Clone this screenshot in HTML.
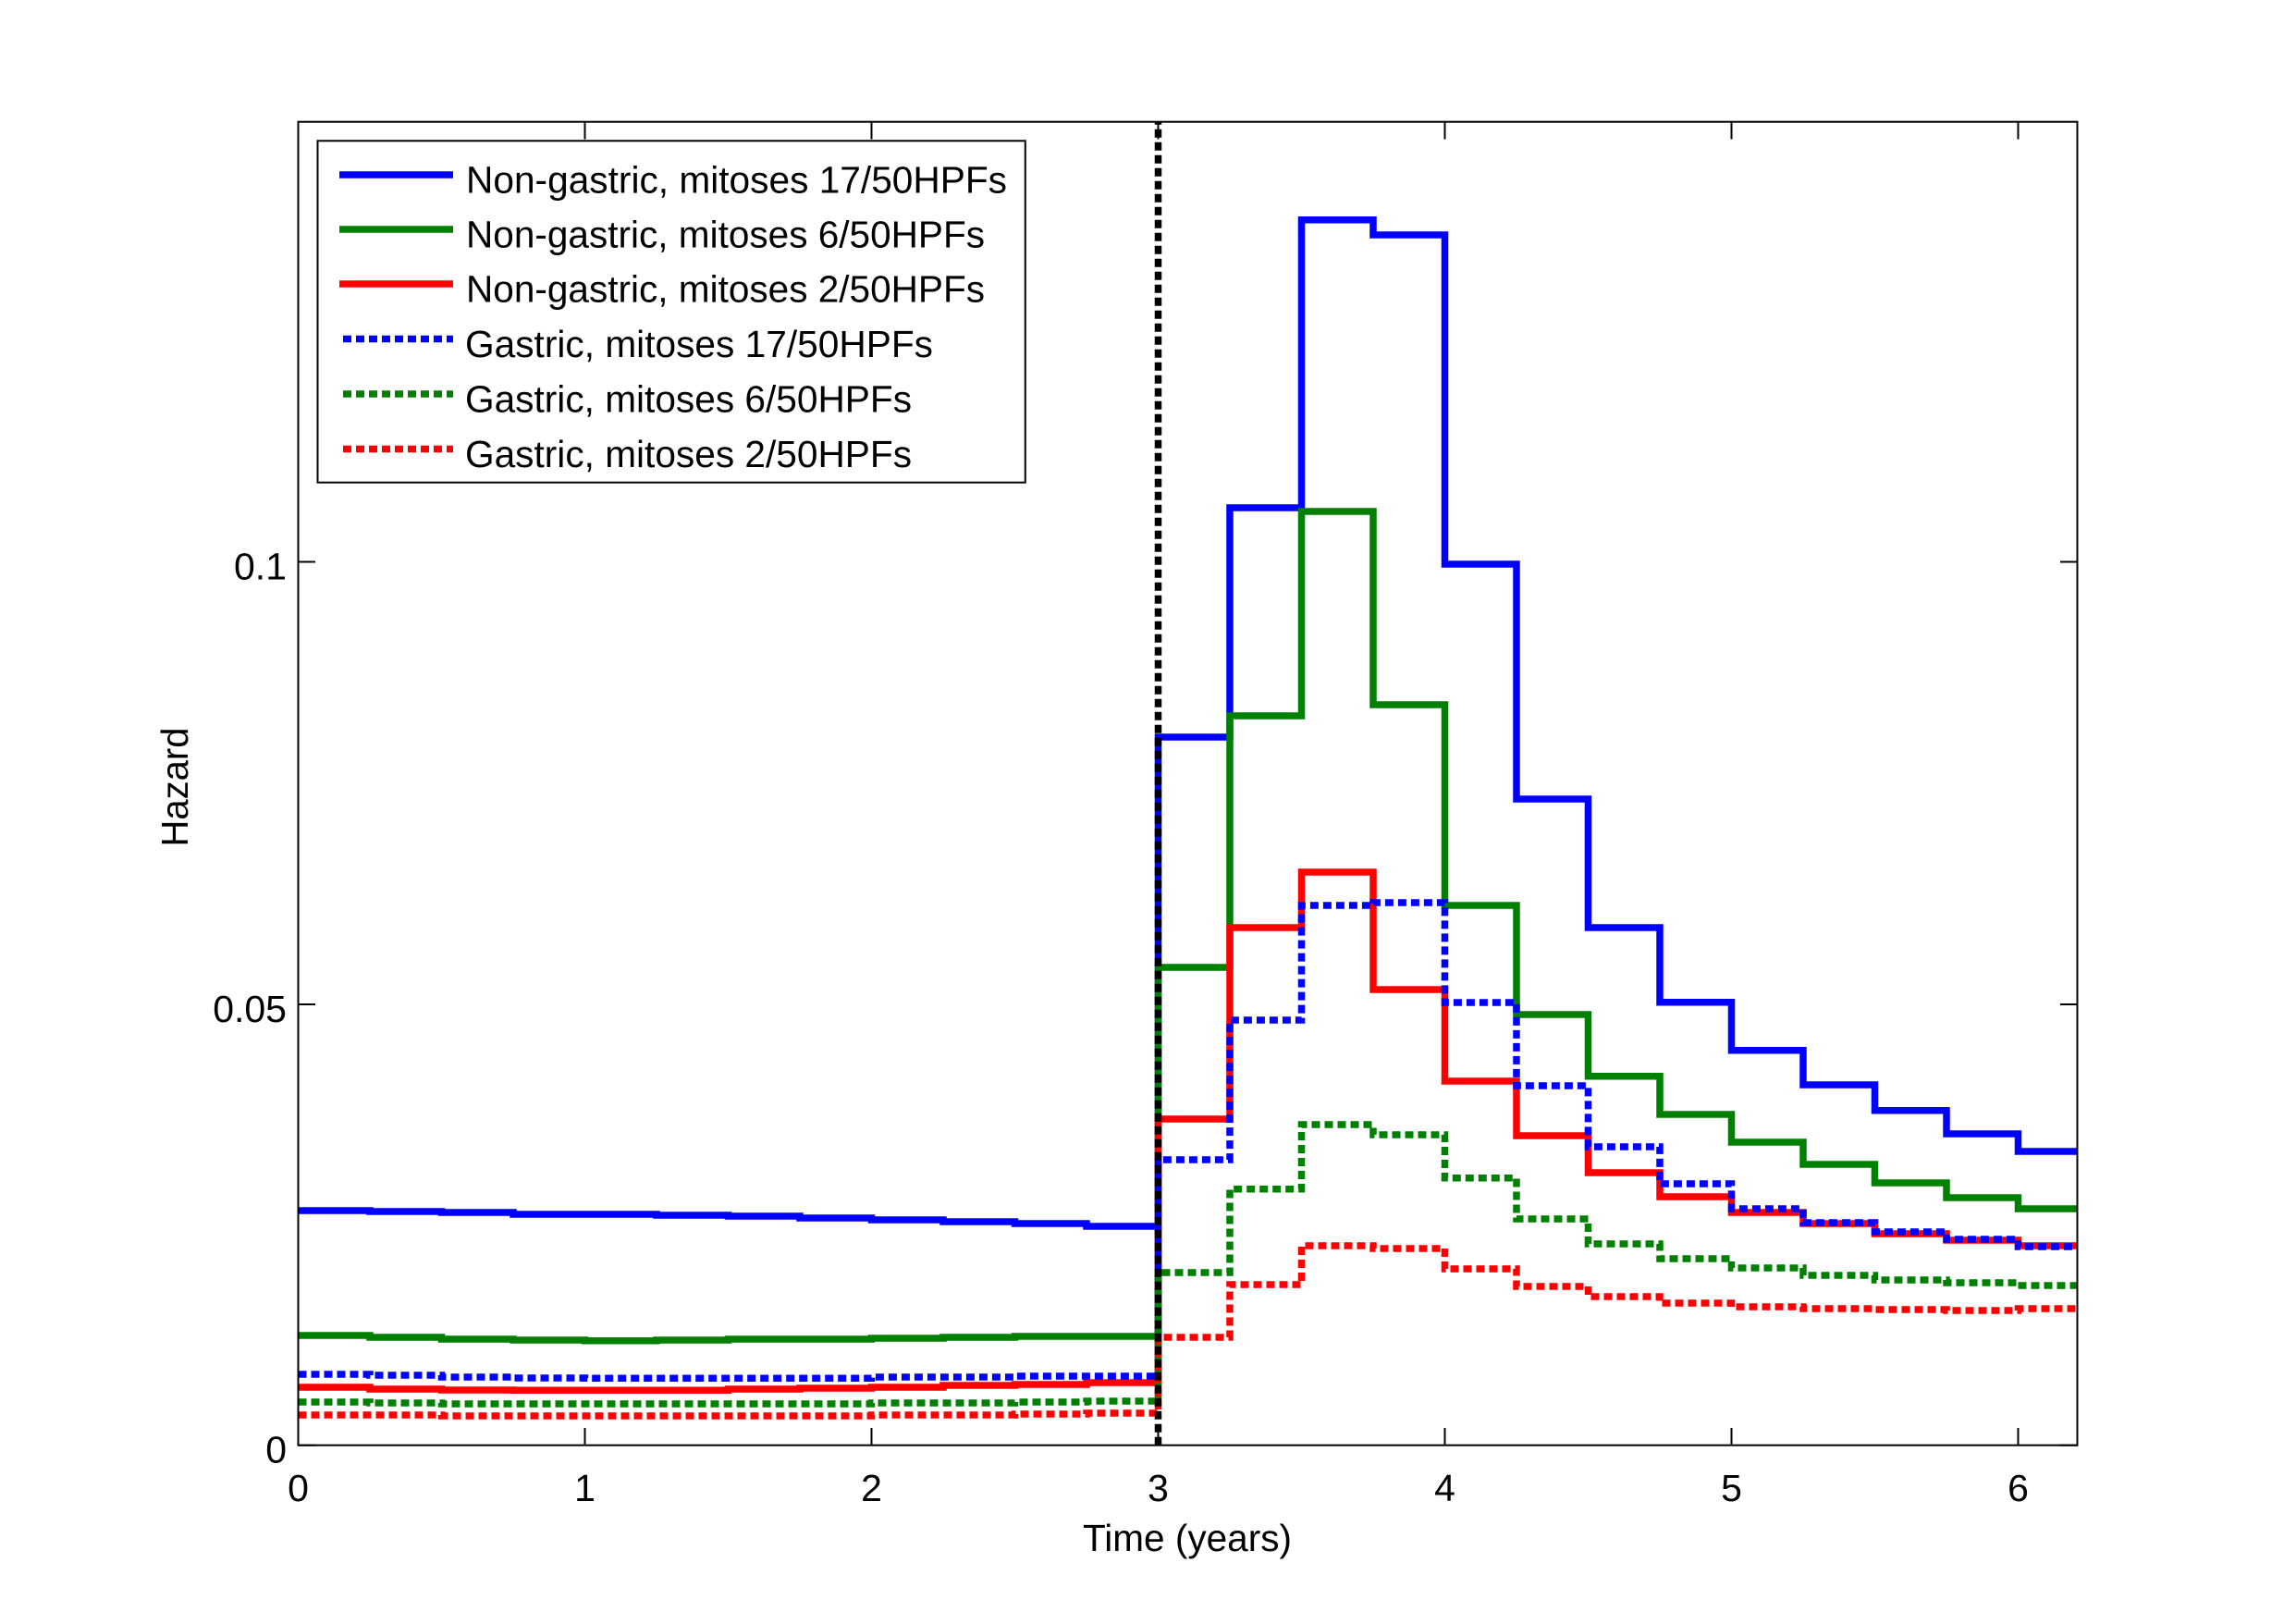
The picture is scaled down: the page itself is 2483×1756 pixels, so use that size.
<!DOCTYPE html>
<html>
<head>
<meta charset="utf-8">
<style>
html,body{margin:0;padding:0;background:#fff;}
svg{display:block;}
text{font-family:"Liberation Sans",Arial,sans-serif;fill:#000;}
</style>
</head>
<body>
<svg width="2483" height="1756" viewBox="0 0 2483 1756" xmlns="http://www.w3.org/2000/svg">
<rect x="0" y="0" width="2483" height="1756" fill="#fff"/>
<defs>
<clipPath id="pa"><rect x="322.5" y="131.7" width="1924" height="1431"/></clipPath>
</defs>

<!-- ticks -->
<g stroke="#000" stroke-width="2" fill="none">
<path d="M322.5,1562.7V1544 M632.5,1562.7V1544 M942.5,1562.7V1544 M1252.5,1562.7V1544 M1562.5,1562.7V1544 M1872.5,1562.7V1544 M2182.5,1562.7V1544"/>
<path d="M322.5,131.7V150.5 M632.5,131.7V150.5 M942.5,131.7V150.5 M1252.5,131.7V150.5 M1562.5,131.7V150.5 M1872.5,131.7V150.5 M2182.5,131.7V150.5"/>
<path d="M322.5,1562.7H341 M322.5,1086H341 M322.5,607.5H341"/>
<path d="M2246.5,1562.7H2228 M2246.5,1086H2228 M2246.5,607.5H2228"/>
</g>

<!-- data -->
<g clip-path="url(#pa)" fill="none" stroke-width="7.5" stroke-linejoin="miter" stroke-linecap="butt">
<path stroke="#0000ff" d="M322.5,1309 H400 V1310 H477.5 V1311 H555 V1313 H710 V1314 H787.5 V1315 H865 V1317 H942.5 V1319 H1020 V1321 H1097.5 V1323 H1175 V1326 H1252.5 V797 H1330 V549 H1407.5 V237.7 H1485 V254 H1562.5 V610 H1640 V864 H1717.5 V1003 H1795 V1083.7 H1872.5 V1135.7 H1950 V1173 H2027.5 V1200.7 H2105 V1226 H2182.5 V1245 H2250"/>
<path stroke="#008000" d="M322.5,1444 H400 V1446 H477.5 V1448 H555 V1449 H632.5 V1449.7 H710 V1449 H787.5 V1448 H942.5 V1447 H1020 V1446 H1097.5 V1445 H1252.5 V1046 H1330 V774 H1407.5 V553 H1485 V762 H1562.5 V979 H1640 V1097 H1717.5 V1163.7 H1795 V1205 H1872.5 V1235 H1950 V1259 H2027.5 V1279 H2105 V1295 H2182.5 V1307 H2250"/>
<path stroke="#ff0000" d="M322.5,1500 H400 V1502 H477.5 V1503 H555 V1503.3 H787.5 V1502 H865 V1501 H942.5 V1500 H1020 V1498 H1097.5 V1497 H1175 V1495 H1252.5 V1210 H1330 V1003 H1407.5 V943 H1485 V1070 H1562.5 V1169 H1640 V1228 H1717.5 V1268 H1795 V1294 H1872.5 V1311 H1950 V1323 H2027.5 V1334 H2105 V1341 H2182.5 V1347 H2250"/>
<g stroke-dasharray="9 5">
<path stroke="#0000ff" d="M322.5,1486 H400 V1487 H477.5 V1489 H555 V1490 H632.5 V1490.3 H942.5 V1489 H1097.5 V1488 H1252.5 V1254 H1330 V1103 H1407.5 V979 H1485 V976 H1562.5 V1084 H1640 V1174 H1717.5 V1240 H1795 V1280 H1872.5 V1307 H1950 V1322 H2027.5 V1332 H2105 V1340 H2182.5 V1348 H2250"/>
<path stroke="#008000" d="M322.5,1516 H400 V1517 H477.5 V1518 H942.5 V1517 H1097.5 V1516 H1175 V1515 H1252.5 V1376 H1330 V1285.7 H1407.5 V1216 H1485 V1227 H1562.5 V1273.7 H1640 V1318 H1717.5 V1345 H1795 V1361 H1872.5 V1371 H1950 V1379 H2027.5 V1384 H2105 V1387 H2182.5 V1390 H2250"/>
<path stroke="#ff0000" d="M322.5,1530 H477.5 V1531 H942.5 V1530 H1097.5 V1529 H1175 V1528 H1252.5 V1446 H1330 V1389 H1407.5 V1347 H1485 V1350 H1562.5 V1372 H1640 V1391 H1717.5 V1402 H1795 V1409 H1872.5 V1413 H1950 V1415 H2027.5 V1416 H2105 V1417 H2182.5 V1415 H2250"/>
<path stroke="#000000" d="M1252.5,1562.7 V131.7"/>
</g>
</g>

<!-- axes box -->
<rect x="322.5" y="131.7" width="1924" height="1431" fill="none" stroke="#000" stroke-width="2"/>

<!-- tick labels -->
<g font-size="41" text-anchor="middle">
<text x="322.5" y="1623">0</text>
<text x="632.5" y="1623">1</text>
<text x="942.5" y="1623">2</text>
<text x="1252.5" y="1623">3</text>
<text x="1562.5" y="1623">4</text>
<text x="1872.5" y="1623">5</text>
<text x="2182.5" y="1623">6</text>
</g>
<g font-size="41" text-anchor="end">
<text x="310" y="1581.5">0</text>
<text x="310" y="1105">0.05</text>
<text x="310" y="626.5">0.1</text>
</g>

<!-- axis labels -->
<text x="1284" y="1677" font-size="41" text-anchor="middle" textLength="226" lengthAdjust="spacingAndGlyphs">Time (years)</text>
<text transform="translate(203,851) rotate(-90)" x="0" y="0" font-size="41" text-anchor="middle" textLength="129" lengthAdjust="spacingAndGlyphs">Hazard</text>

<!-- legend -->
<rect x="343.5" y="152.3" width="765.3" height="369.4" fill="#fff" stroke="#000" stroke-width="2"/>
<g fill="none" stroke-width="7.5">
<path stroke="#0000ff" d="M367,189 H490"/>
<path stroke="#008000" d="M367,248 H490"/>
<path stroke="#ff0000" d="M367,307 H490"/>
<g stroke-dasharray="9 5">
<path stroke="#0000ff" d="M371,366.5 H490"/>
<path stroke="#008000" d="M371,426 H490"/>
<path stroke="#ff0000" d="M371,485.5 H490"/>
</g>
</g>
<g font-size="41" lengthAdjust="spacingAndGlyphs">
<text x="504" y="208.5" textLength="585" lengthAdjust="spacingAndGlyphs">Non-gastric, mitoses 17/50HPFs</text>
<text x="504" y="267.5" textLength="561" lengthAdjust="spacingAndGlyphs">Non-gastric, mitoses 6/50HPFs</text>
<text x="504" y="326.5" textLength="561" lengthAdjust="spacingAndGlyphs">Non-gastric, mitoses 2/50HPFs</text>
<text x="503" y="386" textLength="506" lengthAdjust="spacingAndGlyphs">Gastric, mitoses 17/50HPFs</text>
<text x="503" y="445.5" textLength="483" lengthAdjust="spacingAndGlyphs">Gastric, mitoses 6/50HPFs</text>
<text x="503" y="505" textLength="483" lengthAdjust="spacingAndGlyphs">Gastric, mitoses 2/50HPFs</text>
</g>
</svg>
</body>
</html>
